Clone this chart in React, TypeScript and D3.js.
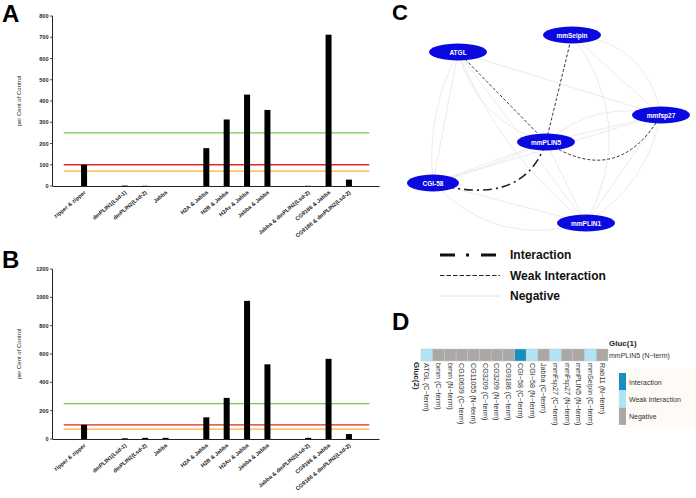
import React from "react";
import * as d3 from "d3";

// ---------- Data: panels A & B ----------
const categories = [
  "zipper & zipper", "", "dmPLIN1(Lsd-1)", "dmPLIN2(Lsd-2)", "Jabba", "",
  "H2A & Jabba", "H2B & Jabba", "H2Av & Jabba", "Jabba & Jabba", "",
  "Jabba & dmPLIN2(Lsd-2)", "CG9186 & Jabba", "CG9186 & dmPLIN2(Lsd-2)",
];
const valuesA: (number | null)[] = [100, null, 2, 1, 0, null, 178, 313, 430, 358, null, 1, 712, 30];
const valuesB: (number | null)[] = [100, null, 5, 8, 8, null, 153, 290, 975, 527, null, 8, 566, 35];
const ticksA = [0, 100, 200, 300, 400, 500, 600, 700, 800];
const ticksB = [0, 200, 400, 600, 800, 1000, 1200];
const thresholdValues = [250, 100, 70];
const thresholdColors = ["#72c94e", "#e3262d", "#f1b52a"];

// ---------- Data: panel C ----------
const nodeNames = ["ATGL", "mmSeipin", "mmfsp27", "mmPLIN5", "CGI-58", "mmPLIN1"];
const nodeX = [62, 176, 265, 150, 37, 190];
const nodeY = [52, 35, 115, 142, 183, 223];
// [source, target, type, bend, shift]
const edges: [number, number, string, number, number][] = [
  [0, 2, "neg", 0, 0], [0, 4, "neg", 0, 0], [0, 5, "neg", 0, 0], [0, 5, "neg", 28, 0],
  [1, 2, "neg", 0, 0], [1, 2, "neg", -45, 0], [4, 3, "neg", 0, 0], [4, 3, "neg", 5, 0],
  [4, 2, "neg", 0, 0], [4, 5, "neg", 0, 0], [4, 5, "neg", 48, 0], [3, 5, "neg", 0, 0],
  [3, 2, "neg", 0, 0], [3, 2, "neg", -30, 0], [2, 5, "neg", 0, 0], [2, 5, "neg", -28, 0],
  [0, 3, "neg", 35, 0], [4, 0, "neg", -20, 0], [1, 5, "neg", -60, 0],
  [0, 3, "weak", 0, 0], [1, 3, "weak", 0, 0], [3, 2, "weak", 62, 0],
  [3, 4, "int", -55, -16],
];
const legendC = ["Interaction", "Weak Interaction", "Negative"];

// ---------- Data: panel D ----------
const dCols = [
  "ATGL (C\u2212term)", "bmm (C\u2212term)", "bmm (N\u2212term)", "CG10639 (C\u2212term)",
  "CG11055 (N\u2212term)", "CG3209 (C\u2212term)", "CG3209 (N\u2212term)", "CG9186 (C\u2212term)",
  "CGI\u221258 (C\u2212term)", "CGI\u221258 (N\u2212term)", "Jabba (C\u2212term)", "mmFsp27 (C\u2212term)",
  "mmFsp27 (N\u2212term)", "mmPLIN5 (N\u2212term)", "mmSeipin (C\u2212term)", "Rab11 (N\u2212term)",
];
const dValues = [1, 0, 0, 0, 0, 0, 0, 0, 2, 1, 0, 1, 0, 0, 1, 0];
const dLevels = ["Interaction", "Weak interaction", "Negative"];
const dColors = ["#1590c0", "#aee4f6", "#aaa7a4"];
const dRow = "mmPLIN5 (N\u2212term)";

const FONT = "Arial, 'Liberation Sans', sans-serif";

function BarPanel({ values, ticks, y0, y1 }: { values: (number | null)[]; ticks: number[]; y0: number; y1: number }) {
  const x = d3.scalePoint<number>().domain(d3.range(categories.length)).range([53.5, 379.5]).padding(1.5);
  const y = d3.scaleLinear().domain([0, ticks[ticks.length - 1]]).range([y0, y1]);
  const step = x.step();
  const bw = 6;
  const xl = 52.5;
  return (
    <g fontFamily={FONT}>
      {thresholdValues.map((v, i) => (
        <line key={"t" + i} x1={x(0)! - step} x2={x(categories.length - 1)! + step} y1={y(v)} y2={y(v)}
          stroke={thresholdColors[i]} strokeWidth={1.4} />
      ))}
      {values.map((v, i) =>
        v === null ? null : (
          <rect key={"b" + i} x={x(i)! - bw / 2} y={y(v)} width={bw} height={y0 - y(v)} fill="#000" />
        )
      )}
      <line x1={xl} x2={xl} y1={y0} y2={y1} stroke="#222" strokeWidth={1} />
      <line x1={xl} x2={379.5} y1={y0 + 0.5} y2={y0 + 0.5} stroke="#222" strokeWidth={1} />
      {ticks.map((t) => (
        <g key={"yt" + t}>
          <line x1={xl - 2.5} x2={xl} y1={y(t)} y2={y(t)} stroke="#222" strokeWidth={0.8} />
          <text x={xl - 4} y={y(t)} textAnchor="end" dominantBaseline="central" fontSize={5.5} fontWeight="bold" fill="#222">{t}</text>
        </g>
      ))}
      {categories.map((c, i) =>
        c ? (
          <text key={"c" + i} transform={`translate(${x(i)! + 2},${y0 + 7}) rotate(-40)`} textAnchor="end"
            fontSize={5.5} fontWeight="bold" fill="#222">{c}</text>
        ) : null
      )}
      <text transform={`translate(19,${(y0 + y1) / 2}) rotate(-90)`} textAnchor="middle" dominantBaseline="central"
        fontSize={6} fill="#222">per Cent of Control</text>
    </g>
  );
}

function Network() {
  const sx = d3.scaleLinear().domain([0, 300]).range([396, 696]);
  const sy = d3.scaleLinear().domain([0, 250]).range([0, 250]);
  const pathFor = (a: number, b: number, bend: number, shift: number) => {
    const x0 = sx(nodeX[a]), y0 = sy(nodeY[a]), x1 = sx(nodeX[b]), y1 = sy(nodeY[b]);
    const dx = x1 - x0, dy = y1 - y0, len = Math.hypot(dx, dy);
    const ux = dx / len, uy = dy / len;
    const cx = (x0 + x1) / 2 - uy * bend + ux * shift;
    const cy = (y0 + y1) / 2 + ux * bend + uy * shift;
    const p = d3.path();
    p.moveTo(x0, y0);
    p.quadraticCurveTo(cx, cy, x1, y1);
    return p.toString();
  };
  const style: Record<string, any> = {
    neg: { stroke: "#e6e6e6", strokeWidth: 0.8, dash: undefined },
    weak: { stroke: "#333", strokeWidth: 1, dash: "3,2" },
    int: { stroke: "#222", strokeWidth: 1.6, dash: "9,4,2,4" },
  };
  const order = ["neg", "weak", "int"];
  return (
    <g fontFamily={FONT}>
      {order.map((t) =>
        edges.filter((e) => e[2] === t).map((e, i) => (
          <path key={t + i} d={pathFor(e[0], e[1], e[3], e[4])} fill="none" stroke={style[t].stroke}
            strokeWidth={style[t].strokeWidth} strokeDasharray={style[t].dash} />
        ))
      )}
      {nodeNames.map((n, i) => (
        <g key={n} transform={`translate(${sx(nodeX[i])},${sy(nodeY[i])})`}>
          <ellipse rx={n === "CGI-58" ? 26 : 29} ry={8.5} fill="#0a0ae0" />
          <text textAnchor="middle" dominantBaseline="central" fontSize={6.5} fontWeight="bold" fill="#fff">{n}</text>
        </g>
      ))}
      {legendC.map((l, i) => {
        const ly = 255 + i * 20.5;
        const st = i === 0 ? { s: "#111", w: 3, d: "15,11,3,12" } : i === 1 ? { s: "#222", w: 1.2, d: "4.5,2" } : { s: "#e0e0e0", w: 1, d: undefined };
        return (
          <g key={l}>
            <line x1={440} x2={500} y1={ly} y2={ly} stroke={st.s} strokeWidth={st.w} strokeDasharray={st.d} />
            <text x={510} y={ly} dominantBaseline="central" fontSize={12} fontWeight="bold" fill="#111">{l}</text>
          </g>
        );
      })}
    </g>
  );
}

function Heatmap() {
  const x = d3.scaleBand<number>().domain(d3.range(dCols.length)).range([421, 608]);
  const color = d3.scaleOrdinal<number, string>().domain([2, 1, 0]).range(dColors);
  const top = 349, h = 12;
  return (
    <g fontFamily={FONT}>
      {dValues.map((v, i) => (
        <rect key={i} x={x(i)} y={top} width={x.bandwidth()} height={h} fill={color(v)} stroke="#c8c8c8" strokeWidth={0.5} />
      ))}
      {dCols.map((c, i) => (
        <text key={c} transform={`translate(${x(i)! + x.bandwidth() / 2},${top + h + 2}) rotate(90)`}
          dominantBaseline="central" fontSize={7.2} fill="#333">{c}</text>
      ))}
      <text x={609} y={346} fontSize={8} fontWeight="bold" fill="#222">Gluc(1)</text>
      <text x={609} y={top + h / 2} dominantBaseline="central" fontSize={7} fill="#333">{dRow}</text>
      <text transform={`translate(416,${top + h + 1}) rotate(90)`} dominantBaseline="central" fontSize={8}
        fontWeight="bold" fill="#222">Gluc(2)</text>
      <rect x={617} y={368} width={79} height={60} fill="#fefbf7" />
      {dLevels.map((l, i) => (
        <g key={l}>
          <rect x={619} y={373 + i * 17.3} width={7} height={17.3} fill={dColors[i]} />
          <text x={629} y={373 + i * 17.3 + 9} dominantBaseline="central" fontSize={7} fill="#333">{l}</text>
        </g>
      ))}
    </g>
  );
}

export default function App() {
  return (
    <svg width={696} height={498} style={{ position: "absolute", left: 0, top: 0, background: "#fff" }}>
      <rect width={696} height={498} fill="#fff" />
      <BarPanel values={valuesA} ticks={ticksA} y0={186} y1={16} />
      <BarPanel values={valuesB} ticks={ticksB} y0={439} y1={269} />
      <Network />
      <Heatmap />
      <g fontFamily={FONT} fontWeight="bold" fill="#000">
        <text x={2} y={22} fontSize={24}>A</text>
        <text x={2} y={268} fontSize={24}>B</text>
        <text x={392} y={20} fontSize={22}>C</text>
        <text x={392} y={330} fontSize={24}>D</text>
      </g>
    </svg>
  );
}
